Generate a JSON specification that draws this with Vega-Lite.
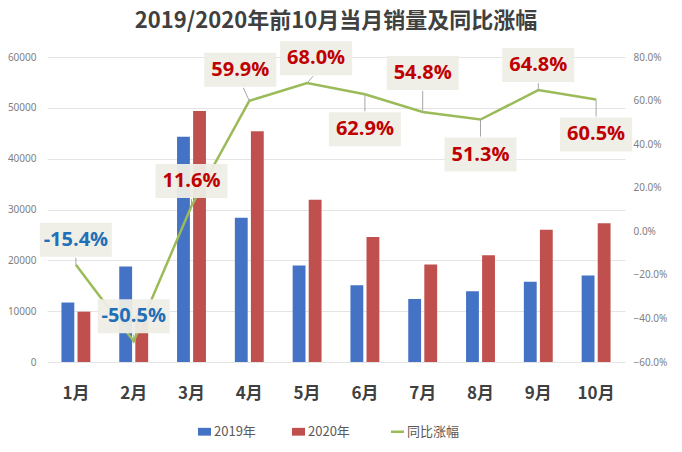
{
  "$schema": "https://vega.github.io/schema/vega-lite/v6.json",
  "autosize": {"type": "none"},
  "padding": {"left": 47, "top": 57, "right": 57, "bottom": 90},
  "width": 578,
  "height": 305,
  "background": "white",
  "config": {
    "view": {"stroke": null},
    "font": "Noto Sans CJK SC"
  },
  "title": {
    "text": "2019/2020年前10月当月销量及同比涨幅",
    "fontSize": 22,
    "fontWeight": "bold",
    "color": "#404040",
    "anchor": "middle",
    "offset": 8,
    "font": "Noto Sans CJK SC"
  },
  "datasets": {
    "sales": [
      {"month": "1月", "year": "2019年", "sales": 11700},
      {"month": "1月", "year": "2020年", "sales": 9900},
      {"month": "2月", "year": "2019年", "sales": 18800},
      {"month": "2月", "year": "2020年", "sales": 9300},
      {"month": "3月", "year": "2019年", "sales": 44300},
      {"month": "3月", "year": "2020年", "sales": 49400},
      {"month": "4月", "year": "2019年", "sales": 28400},
      {"month": "4月", "year": "2020年", "sales": 45400},
      {"month": "5月", "year": "2019年", "sales": 19000},
      {"month": "5月", "year": "2020年", "sales": 31900},
      {"month": "6月", "year": "2019年", "sales": 15100},
      {"month": "6月", "year": "2020年", "sales": 24600},
      {"month": "7月", "year": "2019年", "sales": 12400},
      {"month": "7月", "year": "2020年", "sales": 19200},
      {"month": "8月", "year": "2019年", "sales": 13900},
      {"month": "8月", "year": "2020年", "sales": 21000},
      {"month": "9月", "year": "2019年", "sales": 15800},
      {"month": "9月", "year": "2020年", "sales": 26000},
      {"month": "10月", "year": "2019年", "sales": 17000},
      {"month": "10月", "year": "2020年", "sales": 27300}
    ],
    "yoy": [
      {"month": "1月", "yoy": -15.4, "label": "-15.4%"},
      {"month": "2月", "yoy": -50.5, "label": "-50.5%"},
      {"month": "3月", "yoy": 11.6, "label": "11.6%"},
      {"month": "4月", "yoy": 59.9, "label": "59.9%"},
      {"month": "5月", "yoy": 68.0, "label": "68.0%"},
      {"month": "6月", "yoy": 62.9, "label": "62.9%"},
      {"month": "7月", "yoy": 54.8, "label": "54.8%"},
      {"month": "8月", "yoy": 51.3, "label": "51.3%"},
      {"month": "9月", "yoy": 64.8, "label": "64.8%"},
      {"month": "10月", "yoy": 60.5, "label": "60.5%"}
    ]
  },
  "encoding": {
    "x": {
      "field": "month",
      "type": "nominal",
      "sort": ["1月","2月","3月","4月","5月","6月","7月","8月","9月","10月"],
      "scale": {"paddingInner": 0.5, "paddingOuter": 0.25},
      "axis": {
        "title": null,
        "labelAngle": 0,
        "labelFontSize": 17,
        "labelFontWeight": "bold",
        "labelColor": "#404040",
        "labelPadding": 23,
        "ticks": false,
        "domain": false,
        "font": "Noto Sans CJK SC"
      }
    }
  },
  "layer": [
    {
      "data": {"name": "sales"},
      "mark": {"type": "bar"},
      "encoding": {
        "xOffset": {"field": "year", "type": "nominal", "scale": {"paddingInner": 0.2}},
        "y": {
          "field": "sales",
          "type": "quantitative",
          "scale": {"domain": [0, 60000]},
          "axis": {
            "title": null,
            "values": [0, 10000, 20000, 30000, 40000, 50000, 60000],
            "format": "d",
            "labelFontSize": 10,
            "labelColor": "#7F7F7F",
            "labelPadding": 11,
            "labelFont": "Noto Sans",
            "ticks": false,
            "domain": false,
            "gridColor": "#E4E4E4"
          }
        },
        "color": {
          "field": "year",
          "type": "nominal",
          "scale": {
            "domain": ["2019年", "2020年", "同比涨幅"],
            "range": ["#4472C4", "#C0504D", "#9BBB59"]
          },
          "legend": {
            "title": null,
            "orient": "none",
            "legendX": 151,
            "legendY": 368,
            "direction": "horizontal",
            "labelFontSize": 13,
            "labelColor": "#595959",
            "labelFont": "Noto Sans CJK SC",
            "columnPadding": 36,
            "labelOffset": 3,
            "symbolSize": 169,
            "encode": {
              "symbols": {
                "update": {
                  "shape": {"signal": "datum.value === '同比涨幅' ? 'stroke' : 'M-1,-0.6H1V0.6H-1Z'"},
                  "fill": {"signal": "scale('color', datum.value)"},
                  "stroke": {"signal": "scale('color', datum.value)"},
                  "strokeWidth": {"signal": "datum.value === '同比涨幅' ? 2.5 : 0"},
                  "opacity": {"value": 1},
                  "fillOpacity": {"value": 1}
                }
              }
            }
          }
        }
      }
    },
    {
      "data": {"name": "yoy"},
      "encoding": {
        "y": {
          "field": "yoy",
          "type": "quantitative",
          "scale": {"domain": [-60, 80]},
          "axis": {
            "orient": "right",
            "title": null,
            "values": [-60, -40, -20, 0, 20, 40, 60, 80],
            "labelExpr": "format(datum.value, '.1f') + '%'",
            "labelFontSize": 10,
            "labelColor": "#7F7F7F",
            "labelPadding": 8,
            "labelFont": "Noto Sans",
            "ticks": false,
            "domain": false,
            "grid": false
          }
        }
      },
      "layer": [
        {
          "mark": {"type": "line", "strokeWidth": 2.5, "color": "#9BBB59"},
          "encoding": {"color": {"datum": "同比涨幅", "type": "nominal"}}
        },
        {
          "transform": [{"filter": {"field": "month", "oneOf": ["1月", "2月", "3月", "9月"]}}],
          "layer": [
            {
              "mark": {"type": "point", "shape": "M0,0V-7", "size": 4, "filled": false, "stroke": "#A6A6A6", "strokeWidth": 1, "opacity": 1}
            },
            {
              "mark": {"type": "point", "shape": "M-36,-17H36V17H-36Z", "size": 4, "filled": true, "fill": "#EEEDE6", "opacity": 0.95, "strokeWidth": 0, "yOffset": -25}
            },
            {
              "mark": {"type": "text", "fontSize": 20, "fontWeight": "bold", "font": "Open Sans", "dy": -25},
              "encoding": {
                "text": {"field": "label"},
                "color": {"condition": {"test": "datum.yoy < 0", "value": "#1F70B8"}, "value": "#C00000"}
              }
            }
          ]
        },
        {
          "transform": [{"filter": {"field": "month", "oneOf": ["4月"]}}],
          "layer": [
            {
              "mark": {"type": "point", "shape": "M0,0L-6,-13", "size": 4, "filled": false, "stroke": "#A6A6A6", "strokeWidth": 1, "opacity": 1}
            },
            {
              "mark": {"type": "point", "shape": "M-36,-17H36V17H-36Z", "size": 4, "filled": true, "fill": "#EEEDE6", "opacity": 0.95, "strokeWidth": 0, "yOffset": -31, "xOffset": -9}
            },
            {
              "mark": {"type": "text", "fontSize": 20, "fontWeight": "bold", "font": "Open Sans", "dy": -31, "dx": -9},
              "encoding": {
                "text": {"field": "label"},
                "color": {"value": "#C00000"}
              }
            }
          ]
        },
        {
          "transform": [{"filter": {"field": "month", "oneOf": ["5月"]}}],
          "layer": [
            {
              "mark": {"type": "point", "shape": "M0,0L6,-7", "size": 4, "filled": false, "stroke": "#A6A6A6", "strokeWidth": 1, "opacity": 1}
            },
            {
              "mark": {"type": "point", "shape": "M-36,-17H36V17H-36Z", "size": 4, "filled": true, "fill": "#EEEDE6", "opacity": 0.95, "strokeWidth": 0, "yOffset": -25, "xOffset": 9}
            },
            {
              "mark": {"type": "text", "fontSize": 20, "fontWeight": "bold", "font": "Open Sans", "dy": -25, "dx": 9},
              "encoding": {
                "text": {"field": "label"},
                "color": {"value": "#C00000"}
              }
            }
          ]
        },
        {
          "transform": [{"filter": {"field": "month", "oneOf": ["7月"]}}],
          "layer": [
            {
              "mark": {"type": "point", "shape": "M0,0V-21", "size": 4, "filled": false, "stroke": "#A6A6A6", "strokeWidth": 1, "opacity": 1}
            },
            {
              "mark": {"type": "point", "shape": "M-36,-17H36V17H-36Z", "size": 4, "filled": true, "fill": "#EEEDE6", "opacity": 0.95, "strokeWidth": 0, "yOffset": -39}
            },
            {
              "mark": {"type": "text", "fontSize": 20, "fontWeight": "bold", "font": "Open Sans", "dy": -39},
              "encoding": {
                "text": {"field": "label"},
                "color": {"value": "#C00000"}
              }
            }
          ]
        },
        {
          "transform": [{"filter": {"field": "month", "oneOf": ["6月", "8月", "10月"]}}],
          "layer": [
            {
              "mark": {"type": "point", "shape": "M0,0V17", "size": 4, "filled": false, "stroke": "#A6A6A6", "strokeWidth": 1, "opacity": 1}
            },
            {
              "mark": {"type": "point", "shape": "M-36,-17H36V17H-36Z", "size": 4, "filled": true, "fill": "#EEEDE6", "opacity": 0.95, "strokeWidth": 0, "yOffset": 35}
            },
            {
              "mark": {"type": "text", "fontSize": 20, "fontWeight": "bold", "font": "Open Sans", "dy": 35},
              "encoding": {
                "text": {"field": "label"},
                "color": {"value": "#C00000"}
              }
            }
          ]
        }
      ]
    }
  ],
  "resolve": {"scale": {"y": "independent"}}
}
